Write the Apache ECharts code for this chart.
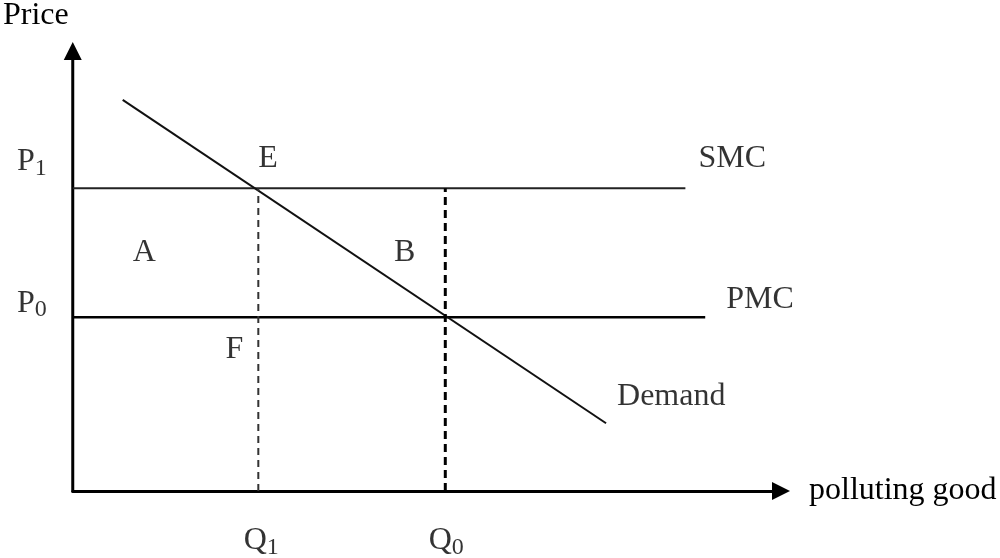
<!DOCTYPE html>
<html lang="en">
<head>
<meta charset="UTF-8">
<title>Polluting good: SMC vs PMC</title>
<script src="https://cdn.jsdelivr.net/npm/echarts@6/dist/echarts.min.js"></script>
<style>
  html, body { margin: 0; padding: 0; background: #fff; }
  #chart { width: 1000px; height: 558px; }
</style>
</head>
<body>
<div id="chart"></div>
<script>
// values, both axes run 0-100
const priceLevels = [39.5, 68.8];      // P0, P1
const quantityLevels = [26.2, 52.6];   // Q1, Q0
const smcLine = [[0, 68.8], [86.5, 68.8]];
const pmcLine = [[0, 39.5], [89.3, 39.5]];
const demandLine = [[7.05, 88.9], [75.3, 15.4]];
const curveNames = ['SMC', 'PMC', 'Demand'];
const pointNames = ['E', 'F'];
const areaNames = ['A', 'B'];
const priceTicks = ['P{sub|0}', 'P{sub|1}'];
const quantityTicks = ['Q{sub|1}', 'Q{sub|0}'];

const P0 = priceLevels[0], P1 = priceLevels[1];
const Q1 = quantityLevels[0], Q0 = quantityLevels[1];
const font = '"Liberation Serif", "Times New Roman", serif';
const fontSize = 32;

var chart = echarts.init(document.getElementById('chart'));

// text anchored on a data point, nudged by a pixel offset
function note(coord, text, align, offset) {
    return { name: text, value: coord, label: { align: align, offset: offset } };
}

function axisStyle(name) {
    return {
        type: 'value',
        min: 0,
        max: 100,
        axisLine: {
            show: true,
            onZero: false,
            symbol: ['none', 'triangle'],
            symbolSize: [18, 18],
            lineStyle: { color: '#000', width: 3 }
        },
        axisTick: { show: false },
        axisLabel: { show: false },
        splitLine: { show: false },
        name: name,
        nameLocation: 'end'
    };
}

var xAxis = axisStyle('polluting good');
xAxis.nameGap = 28;
xAxis.nameTextStyle = { fontFamily: font, fontSize: fontSize, color: '#000', padding: [12, 0, 0, 0] };

var yAxis = axisStyle('Price');
yAxis.nameGap = 19;
yAxis.nameTextStyle = { fontFamily: font, fontSize: fontSize, color: '#000', align: 'right', padding: [0, 4, 0, 0] };

function plainLine(data, width, type, color) {
    return {
        type: 'line',
        data: data,
        symbol: 'none',
        silent: true,
        lineStyle: { color: color || '#000', width: width, type: type || 'solid' }
    };
}

var option = {
    animation: false,
    backgroundColor: '#fff',
    grid: { left: 72, right: 219, top: 49, bottom: 67 },
    xAxis: xAxis,
    yAxis: yAxis,
    series: [
        plainLine(smcLine, 2, 'solid', '#222'),
        plainLine(pmcLine, 2.5),
        plainLine(demandLine, 2, 'solid', '#111'),
        plainLine([[Q1, 0], [Q1, P1]], 2, [7, 5], '#333'),
        plainLine([[Q0, 0], [Q0, P1]], 3, [8, 5]),
        {
            type: 'scatter',
            symbolSize: 1,
            itemStyle: { color: 'rgba(0,0,0,0)' },
            clip: false,
            silent: true,
            label: {
                show: true,
                position: 'inside',
                verticalAlign: 'middle',
                formatter: function (p) { return p.name; },
                fontFamily: font,
                fontSize: fontSize,
                color: '#000',
                rich: {
                    sub: { fontFamily: font, fontSize: 24, lineHeight: 24, color: '#000', verticalAlign: 'top', padding: [11, 0, 0, 0] }
                }
            },
            data: [
                note([Q1, P1], pointNames[0], 'left', [0, -30]),
                note([Q1, P0], pointNames[1], 'right', [-15, 32]),
                note([0, (P0 + P1) / 2], areaNames[0], 'left', [60, 0]),
                note([Q0, (P0 + P1) / 2], areaNames[1], 'right', [-30, 0]),
                note(smcLine[1], curveNames[0], 'left', [13, -30]),
                note(pmcLine[1], curveNames[1], 'left', [21, -18]),
                note(demandLine[1], curveNames[2], 'left', [11, -27]),
                note([0, P1], priceTicks[1], 'right', [-26, -27]),
                note([0, P0], priceTicks[0], 'right', [-26, -14]),
                note([Q1, 0], quantityTicks[0], 'center', [3, 50]),
                note([Q0, 0], quantityTicks[1], 'center', [1, 50])
            ]
        }
    ]
};

chart.setOption(option);
</script>
</body>
</html>
